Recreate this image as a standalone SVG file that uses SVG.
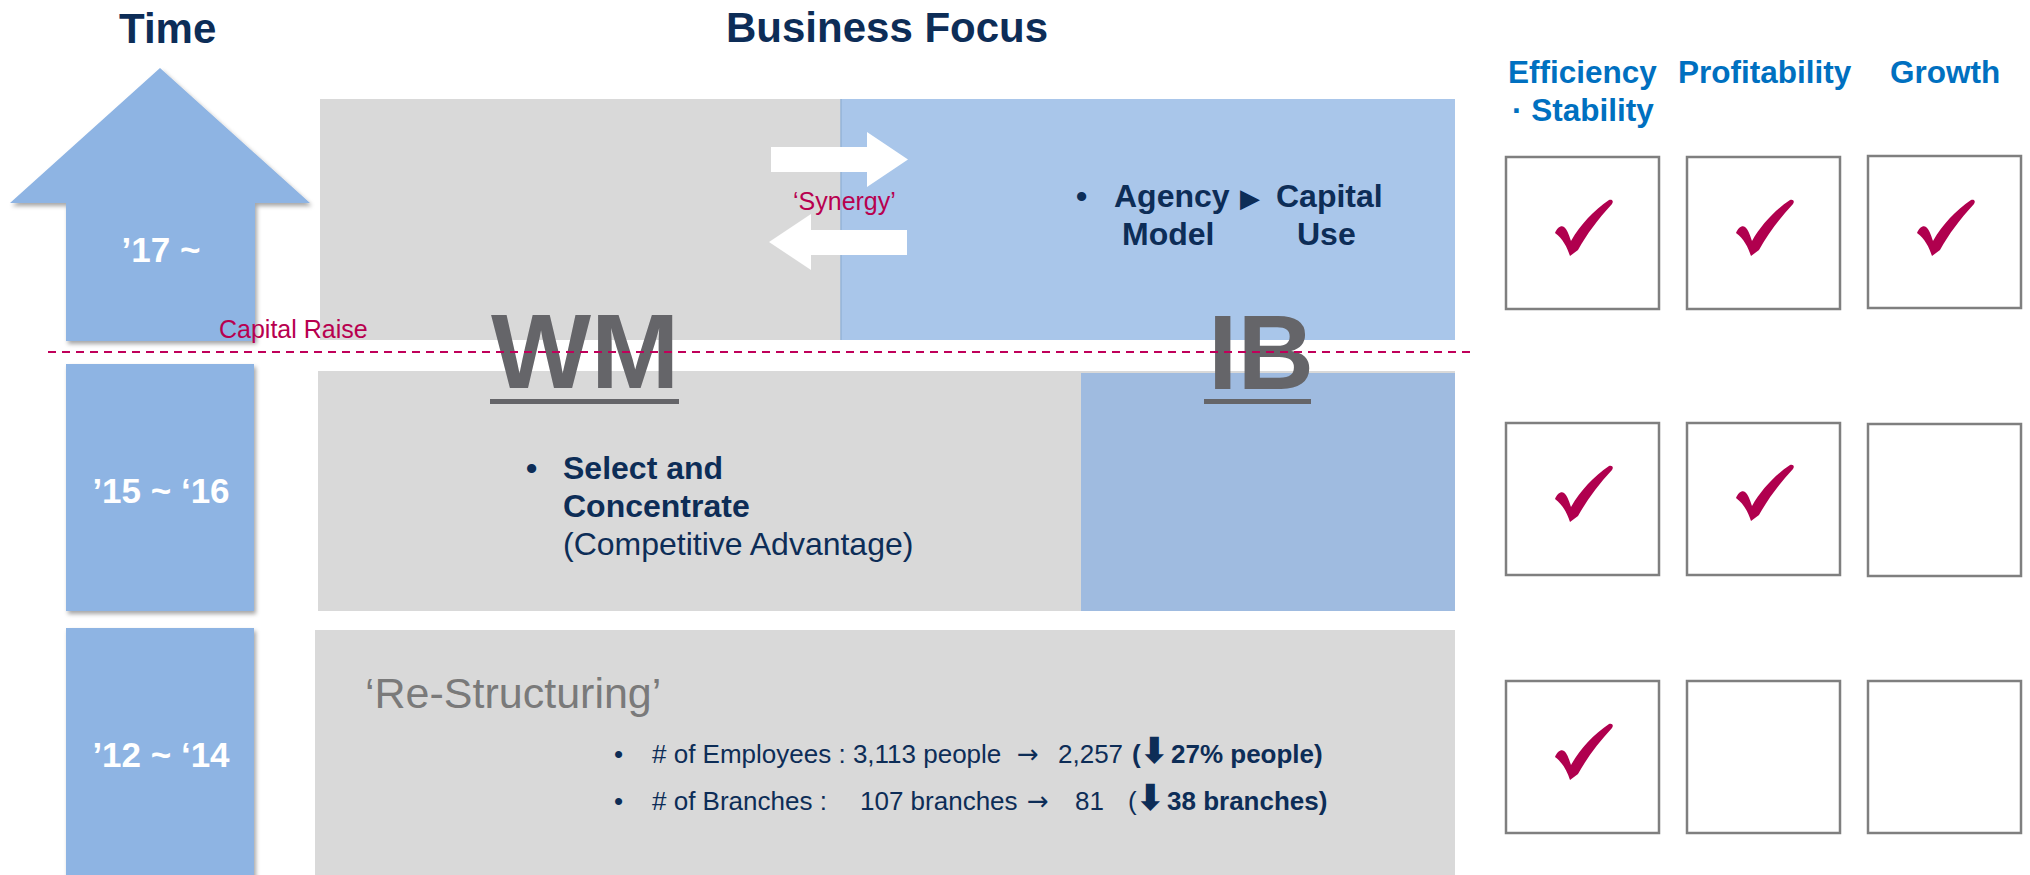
<svg xmlns="http://www.w3.org/2000/svg" width="2030" height="875" viewBox="0 0 2030 875">
  <style>
    .hdr { font-family: "Liberation Sans", Arial, sans-serif; font-weight: bold; font-size: 42px; fill: #0D2D57; }
    .kpi { font-family: "Liberation Sans", Arial, sans-serif; font-weight: bold; font-size: 31.5px; fill: #0070C0; }
    .era { font-family: "Liberation Sans", Arial, sans-serif; font-weight: bold; font-size: 35px; fill: #FFFFFF; text-anchor: middle; }
    .big { font-family: "Liberation Sans", Arial, sans-serif; font-weight: bold; font-size: 106px; fill: #656569; }
    .navyB { font-family: "Liberation Sans", Arial, sans-serif; font-weight: bold; font-size: 32px; fill: #0D2D57; }
    .navy { font-family: "Liberation Sans", Arial, sans-serif; font-size: 32px; fill: #0D2D57; }
    .small { font-family: "Liberation Sans", Arial, sans-serif; font-size: 26px; fill: #0D2D57; }
    .b { font-weight: bold; }
    .sym { font-family: "DejaVu Sans", sans-serif; font-weight: bold; font-size: 36px; }
    .arr { font-family: "DejaVu Sans", sans-serif; font-size: 26px; }
    .accent { font-family: "Liberation Sans", Arial, sans-serif; font-size: 25px; fill: #B8004F; }
    .box { fill: #FFFFFF; stroke: #7F7F7F; stroke-width: 2.5; }
    .timeBlk { fill: #8EB4E3; filter: url(#shadow); }
    .check { fill: #B0004E; }
  </style>
  <defs>
    <filter id="shadow" x="-10%" y="-10%" width="130%" height="130%">
      <feDropShadow dx="2" dy="3" stdDeviation="2" flood-color="#000000" flood-opacity="0.35"/>
    </filter>
    <!-- calligraphic tick, drawn in a 153x152 box frame -->
    <path id="tick" d="M49,76 C51,71 55,68 58,70 C61,72 63,78 65,84 C74,68 88,53 103,43 C106,42 108,44 106,47 C92,62 81,77 72,93 L64,99 C61,90 57,82 49,76 Z"/>
  </defs>

  <!-- column headings -->
  <text class="hdr" x="119" y="43">Time</text>
  <text class="hdr" x="726" y="42">Business Focus</text>
  <g id="kpi-headings">
    <text class="kpi" x="1508" y="83">Efficiency</text>
    <text class="kpi" x="1512" y="121">· Stability</text>
    <text class="kpi" x="1678" y="83">Profitability</text>
    <text class="kpi" x="1890" y="83">Growth</text>
  </g>

  <!-- timeline blocks -->
  <g id="era-2017">
    <polygon class="timeBlk" points="160,68 310,203 255,203 255,341 66,341 66,203 10,203"/>
    <text class="era" x="161" y="262">’17 ~</text>
  </g>
  <g id="era-2015">
    <rect class="timeBlk" x="66" y="364" width="188" height="247"/>
    <text class="era" x="161" y="503">’15 ~ ‘16</text>
  </g>
  <g id="era-2012">
    <rect class="timeBlk" x="66" y="628" width="188" height="260"/>
    <text class="era" x="161" y="767">’12 ~ ‘14</text>
  </g>

  <!-- business focus bands -->
  <g id="band-2017">
    <rect x="320" y="99" width="1135" height="241" fill="#D9D9D9"/>
    <rect x="841" y="99" width="614" height="241" fill="#A9C6EA"/>
    <line x1="841" y1="99" x2="841" y2="340" stroke="#95B3D7" stroke-width="1.5"/>
    <text class="navyB" y="207"><tspan x="1076">•</tspan><tspan x="1114">Agency</tspan><tspan x="1240" font-family="DejaVu Sans, sans-serif" font-size="26">▶</tspan><tspan x="1276">Capital</tspan></text>
    <text class="navyB" y="245"><tspan x="1122">Model</tspan><tspan x="1297">Use</tspan></text>
  </g>
  <g id="band-2015">
    <rect x="318" y="371" width="1137" height="240" fill="#D9D9D9"/>
    <rect x="1081" y="373" width="374" height="238" fill="#9FBBE0"/>
    <text class="navyB" y="479"><tspan x="526">•</tspan><tspan x="563">Select and</tspan></text>
    <text class="navyB" x="563" y="517">Concentrate</text>
    <text class="navy" x="563" y="555">(Competitive Advantage)</text>
  </g>
  <g id="band-2012">
    <rect x="315" y="630" width="1140" height="260" fill="#D9D9D9"/>
    <text x="365" y="708" font-family="Liberation Sans, Arial, sans-serif" font-size="43" fill="#7A7A7A">‘Re-Structuring’</text>
    <text class="small" y="763"><tspan x="614">•</tspan><tspan x="652"># of Employees : 3,113 people</tspan><tspan x="1017" class="arr">→</tspan><tspan x="1058">2,257</tspan><tspan x="1132" class="b">(</tspan><tspan x="1139" class="sym">⬇</tspan><tspan x="1171" class="b">27% people)</tspan></text>
    <text class="small" y="810"><tspan x="614">•</tspan><tspan x="652"># of Branches :</tspan><tspan x="860">107 branches</tspan><tspan x="1027" class="arr">→</tspan><tspan x="1075">81</tspan><tspan x="1128">(</tspan><tspan x="1135" class="sym">⬇</tspan><tspan x="1167" class="b">38 branches)</tspan></text>
  </g>

  <!-- business labels -->
  <g id="label-wm">
    <text class="big" x="491" y="388">WM</text>
    <rect x="490" y="399" width="189" height="5" fill="#656569"/>
  </g>
  <g id="label-ib">
    <text class="big" x="1208" y="389">IB</text>
    <rect x="1204" y="399" width="107" height="5" fill="#656569"/>
  </g>

  <!-- synergy arrows between WM and IB -->
  <g id="connectors" fill="#FFFFFF">
    <polygon points="771,147 867,147 867,132 908,159.5 867,187 867,172 771,172"/>
    <polygon points="907,230 811,230 811,214 769,242 811,270 811,255 907,255"/>
  </g>
  <text class="accent" x="793" y="210">‘Synergy’</text>

  <!-- capital raise divider -->
  <line x1="48" y1="352" x2="1476" y2="352" stroke="#C0005A" stroke-width="2" stroke-dasharray="8,6"/>
  <text class="accent" x="219" y="338" font-size="26">Capital Raise</text>

  <!-- assessment boxes -->
  <g id="row-2017">
    <rect class="box" x="1506" y="157" width="153" height="152"/>
    <rect class="box" x="1687" y="157" width="153" height="152"/>
    <rect class="box" x="1868" y="156" width="153" height="152"/>
    <use href="#tick" class="check" x="1506" y="157"/>
    <use href="#tick" class="check" x="1687" y="157"/>
    <use href="#tick" class="check" x="1868" y="157"/>
  </g>
  <g id="row-2015">
    <rect class="box" x="1506" y="423" width="153" height="152"/>
    <rect class="box" x="1687" y="423" width="153" height="152"/>
    <rect class="box" x="1868" y="424" width="153" height="152"/>
    <use href="#tick" class="check" x="1506" y="423"/>
    <use href="#tick" class="check" x="1687" y="422"/>
  </g>
  <g id="row-2012">
    <rect class="box" x="1506" y="681" width="153" height="152"/>
    <rect class="box" x="1687" y="681" width="153" height="152"/>
    <rect class="box" x="1868" y="681" width="153" height="152"/>
    <use href="#tick" class="check" x="1506" y="681"/>
  </g>
</svg>
